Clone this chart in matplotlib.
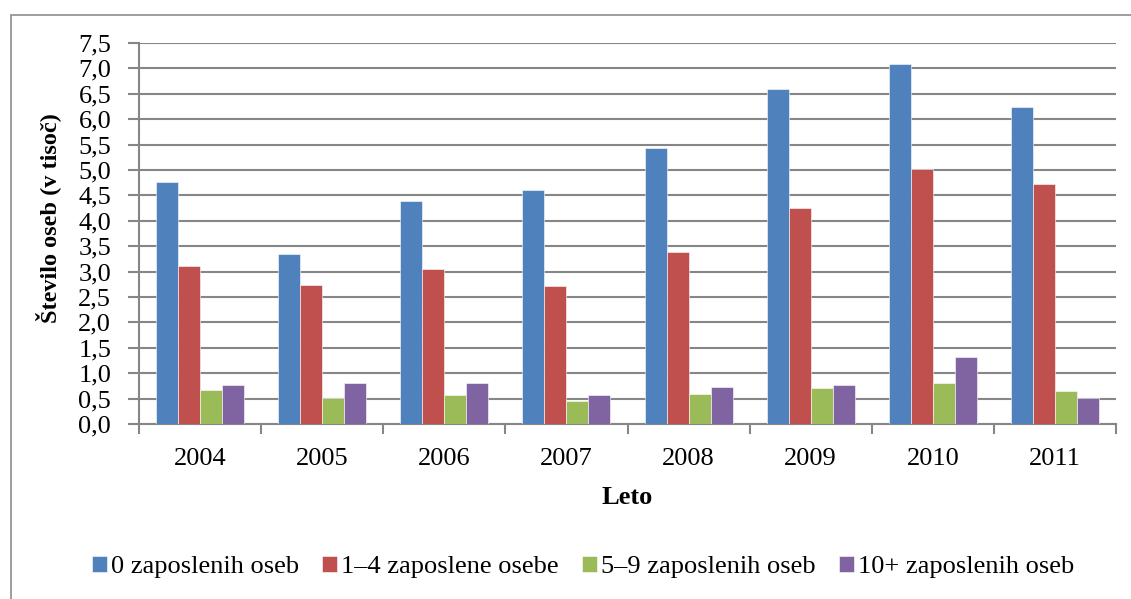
import numpy as np
import matplotlib.pyplot as plt
from matplotlib.patches import Rectangle
from matplotlib.ticker import FuncFormatter

# data (thousands of persons)
years = ['2004', '2005', '2006', '2007', '2008', '2009', '2010', '2011']
series_names = ['0 zaposlenih oseb', '1–4 zaposlene osebe',
                '5–9 zaposlenih oseb', '10+ zaposlenih oseb']
emp_0 = [4.77, 3.35, 4.38, 4.61, 5.43, 6.59, 7.08, 6.24]
emp_1_4 = [3.12, 2.74, 3.06, 2.72, 3.39, 4.25, 5.02, 4.72]
emp_5_9 = [0.66, 0.52, 0.58, 0.45, 0.59, 0.70, 0.81, 0.65]
emp_10 = [0.77, 0.81, 0.80, 0.57, 0.72, 0.77, 1.31, 0.51]
colors = ['#4F81BD', '#C0504D', '#9BBB59', '#8064A2']

plt.rcParams['font.family'] = ['Liberation Serif', 'DejaVu Serif']
FS = 19

W, H = 1131, 599
fig = plt.figure(figsize=(W / 100, H / 100), dpi=100)
ax = fig.add_axes([139 / W, 1 - 424 / H, (1116 - 139) / W, (424 - 43) / H])

# outer chart frame
fig.patches.append(Rectangle((11 / W, -0.05), 1.1, 1 - 15 / H + 0.05,
                             transform=fig.transFigure, fill=False,
                             edgecolor='#8c8c8c', linewidth=1.2, zorder=0))

x = np.arange(len(years)) + 0.5
w = 0.18
all_series = [emp_0, emp_1_4, emp_5_9, emp_10]
for i, (vals, name, col) in enumerate(zip(all_series, series_names, colors)):
    ax.bar(x + (i - 1.5) * w, vals, width=w, color=col, label=name,
           edgecolor='white', linewidth=0.4, zorder=3)

ax.set_xlim(0, len(years))
ax.set_ylim(0, 7.5)
ax.set_yticks(np.arange(0, 7.51, 0.5))
ax.yaxis.set_major_formatter(FuncFormatter(lambda v, p: f'{v:.1f}'.replace('.', ',')))
ax.grid(axis='y', color='#868686', linewidth=1.5, zorder=0)

ax.set_xticks(np.arange(0, len(years) + 1))
ax.set_xticklabels([])
ax.set_xticks(x, minor=True)
ax.set_xticklabels(years, minor=True)
ax.tick_params(axis='x', which='minor', length=0, pad=17, labelsize=FS)
ax.tick_params(axis='x', which='major', length=7, width=1.5, color='#868686', direction='out')
ax.tick_params(axis='y', length=8, width=1.5, color='#868686', direction='out',
               pad=12, labelsize=FS)

for s in ['top', 'right']:
    ax.spines[s].set_visible(False)
for s in ['left', 'bottom']:
    ax.spines[s].set_color('#868686')
    ax.spines[s].set_linewidth(1.5)

fig.text(48 / W, 1 - 218 / H, 'Število oseb (v tisoč)', rotation=90,
         ha='center', va='center', fontsize=17.5, fontweight='bold')
fig.text(627 / W, 1 - 497 / H, 'Leto', ha='center', va='center',
         fontsize=FS, fontweight='bold')

fig.legend(loc='center', bbox_to_anchor=(583 / W, 1 - 567 / H), ncol=4,
           frameon=False, fontsize=FS, handlelength=0.55, handleheight=0.55,
           handletextpad=0.15, columnspacing=0.9)

fig.savefig('out.png', dpi=100)
